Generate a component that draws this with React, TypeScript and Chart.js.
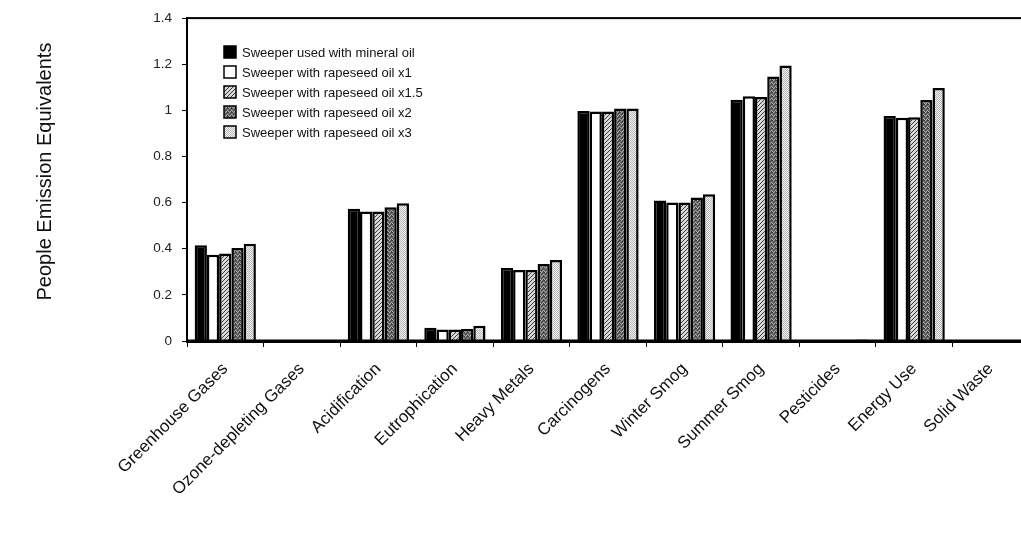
import React, { useEffect, useRef } from 'react';
import { Chart, registerables } from 'chart.js';

Chart.register(...registerables);

const categories = [
  'Greenhouse Gases',
  'Ozone-depleting Gases',
  'Acidification',
  'Eutrophication',
  'Heavy Metals',
  'Carcinogens',
  'Winter Smog',
  'Summer Smog',
  'Pesticides',
  'Energy Use',
  'Solid Waste',
];

const seriesNames = [
  'Sweeper used with mineral oil',
  'Sweeper with rapeseed oil x1',
  'Sweeper with rapeseed oil x1.5',
  'Sweeper with rapeseed oil x2',
  'Sweeper with rapeseed oil x3',
];

const mineralOil = [0.415, 0.003, 0.573, 0.057, 0.317, 0.997, 0.609, 1.046, 0.002, 0.976, 0.001];
const rapeseedX1 = [0.374, 0.003, 0.562, 0.05, 0.308, 0.995, 0.601, 1.061, 0.002, 0.968, 0.001];
const rapeseedX15 = [0.379, 0.003, 0.562, 0.05, 0.308, 0.995, 0.601, 1.058, 0.003, 0.97, 0.001];
const rapeseedX2 = [0.403, 0.003, 0.58, 0.052, 0.334, 1.008, 0.622, 1.147, 0.005, 1.045, 0.001];
const rapeseedX3 = [0.422, 0.003, 0.597, 0.066, 0.351, 1.008, 0.636, 1.195, 0.007, 1.097, 0.001];

const yTicks = [0, 0.2, 0.4, 0.6, 0.8, 1, 1.2, 1.4];
const yTitle = 'People Emission Equivalents';

const FONT = '"Liberation Sans", Arial, sans-serif';

function makePattern(kind: string): CanvasPattern | string {
  const c = document.createElement('canvas');
  const ctx = c.getContext('2d');
  if (!ctx) return '#888';
  if (kind === 'hatch') {
    c.width = 4; c.height = 4;
    ctx.fillStyle = '#d8d8d8';
    ctx.fillRect(0, 0, 4, 4);
    ctx.fillStyle = '#3a3a3a';
    for (let i = 0; i < 4; i++) {
      ctx.fillRect(i, 3 - i, 1, 1);
    }
  } else if (kind === 'dark') {
    c.width = 4; c.height = 4;
    ctx.fillStyle = '#707070';
    ctx.fillRect(0, 0, 4, 4);
    const dk = [[0, 0], [2, 1], [1, 2], [3, 3], [3, 0]];
    const lt = [[1, 0], [3, 2], [0, 3], [2, 3]];
    ctx.fillStyle = '#3c3c3c';
    dk.forEach(([x, y]) => ctx.fillRect(x, y, 1, 1));
    ctx.fillStyle = '#a8a8a8';
    lt.forEach(([x, y]) => ctx.fillRect(x, y, 1, 1));
  } else {
    c.width = 2; c.height = 2;
    ctx.fillStyle = '#f4f4f4';
    ctx.fillRect(0, 0, 2, 2);
    ctx.fillStyle = '#b4b4b4';
    ctx.fillRect(0, 0, 1, 1);
    ctx.fillRect(1, 1, 1, 1);
  }
  const p = ctx.createPattern(c, 'repeat');
  return p || '#888';
}

export default function App() {
  const ref = useRef<HTMLCanvasElement | null>(null);

  useEffect(() => {
    if (!ref.current) return;
    const fills = ['#000000', '#ffffff', makePattern('hatch'), makePattern('dark'), makePattern('light')];
    const values = [mineralOil, rapeseedX1, rapeseedX15, rapeseedX2, rapeseedX3];

    const frame = {
      id: 'frame',
      afterDatasetsDraw(chart: any) {
        const { ctx, chartArea } = chart;
        ctx.save();
        ctx.strokeStyle = '#000';
        ctx.lineWidth = 2;
        ctx.strokeRect(chartArea.left, chartArea.top, chartArea.right - chartArea.left, chartArea.bottom - chartArea.top);
        ctx.lineWidth = 3;
        ctx.beginPath();
        ctx.moveTo(chartArea.left - 1, chartArea.bottom);
        ctx.lineTo(chartArea.right + 1, chartArea.bottom);
        ctx.stroke();
        ctx.restore();
      },
    };

    const legend = {
      id: 'customLegend',
      afterDraw(chart: any) {
        const { ctx, chartArea } = chart;
        ctx.save();
        const x0 = 224;
        const size = 12;
        seriesNames.forEach((name, i) => {
          const cy = 52 + i * 20;
          ctx.fillStyle = fills[i];
          ctx.fillRect(x0, cy - size / 2, size, size);
          ctx.strokeStyle = '#000';
          ctx.lineWidth = 1.5;
          ctx.strokeRect(x0, cy - size / 2, size, size);
          ctx.fillStyle = '#111';
          ctx.font = '13px ' + FONT;
          ctx.textBaseline = 'middle';
          ctx.textAlign = 'left';
          ctx.fillText(name, 242, cy + 1);
        });
        // y-axis title
        ctx.translate(45, (chartArea.top + chartArea.bottom) / 2 - 8);
        ctx.rotate(-Math.PI / 2);
        ctx.font = '20px ' + FONT;
        ctx.textAlign = 'center';
        ctx.textBaseline = 'middle';
        ctx.fillStyle = '#111';
        ctx.fillText(yTitle, 0, 0);
        ctx.restore();
      },
    };

    const chart = new Chart(ref.current, {
      type: 'bar',
      data: {
        labels: categories,
        datasets: seriesNames.map((name, i) => ({
          label: name,
          data: values[i],
          backgroundColor: fills[i] as any,
          borderColor: '#000',
          borderWidth: 2.5,
          borderSkipped: 'bottom',
          categoryPercentage: 0.8,
          barPercentage: 1,
        })),
      },
      options: {
        animation: false,
        responsive: true,
        maintainAspectRatio: false,
        layout: { padding: { top: 14, right: 11, left: 0, bottom: 0 } },
        plugins: {
          legend: { display: false },
          tooltip: { enabled: false },
        },
        scales: {
          x: {
            grid: { offset: true, drawOnChartArea: false, drawTicks: true, tickLength: 6, color: '#000', lineWidth: 1 },
            border: { display: true, color: '#000', width: 3 },
            ticks: {
              color: '#111',
              font: { family: FONT, size: 17 },
              maxRotation: 45,
              minRotation: 45,
              autoSkip: false,
              padding: 12,
            },
            afterFit(scale: any) {
              scale.height = 215;
            },
          },
          y: {
            min: 0,
            max: 1.4,
            afterBuildTicks(scale: any) {
              scale.ticks = yTicks.map((v) => ({ value: v }));
            },
            grid: { drawOnChartArea: false, drawTicks: true, tickLength: 5, color: '#000', lineWidth: 1 },
            border: { display: true, color: '#000', width: 2 },
            ticks: {
              color: '#222',
              font: { family: FONT, size: 13.5 },
              padding: 10,
              callback: (v: any) => String(Math.round(Number(v) * 10) / 10),
            },
            afterFit(scale: any) {
              scale.width = 187;
            },
          },
        },
      },
      plugins: [frame, legend],
    });
    return () => chart.destroy();
  }, []);

  return (
    <div style={{ position: 'absolute', left: 0, top: 0, width: 1021, height: 556, overflow: 'hidden', background: '#fff' }}>
      <div style={{ position: 'relative', width: 1040, height: 556 }}>
        <canvas ref={ref} />
      </div>
    </div>
  );
}
